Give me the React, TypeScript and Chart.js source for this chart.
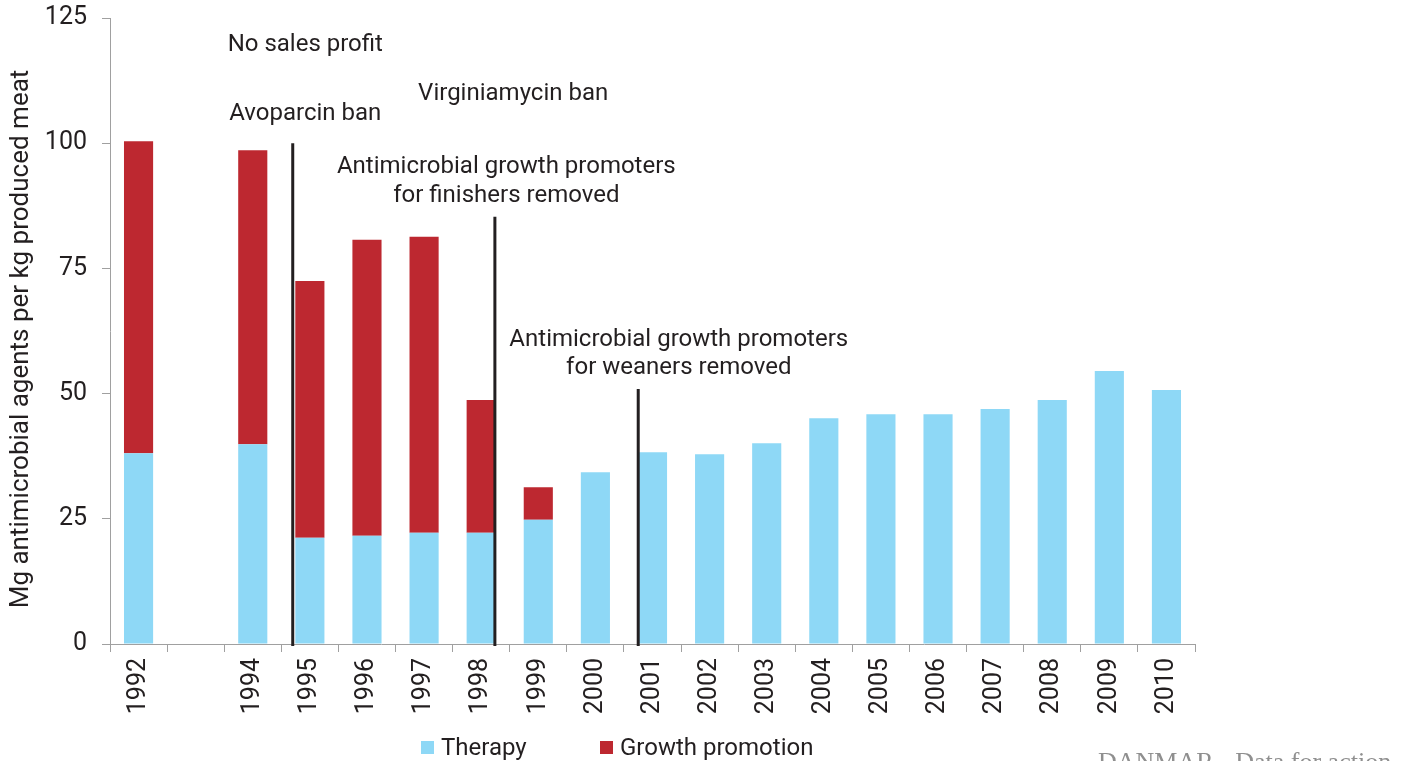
import { useEffect, useRef } from 'react';
import { Chart, registerables } from 'chart.js';

Chart.register(...registerables);

const years = ['1992', '', '1994', '1995', '1996', '1997', '1998', '1999', '2000', '2001', '2002', '2003', '2004', '2005', '2006', '2007', '2008', '2009', '2010'];
const therapy = [38.1, null, 39.9, 21.2, 21.6, 22.2, 22.2, 24.8, 34.3, 38.3, 37.9, 40.1, 45.1, 45.9, 45.9, 46.9, 48.7, 54.5, 50.7];
const growthPromotion = [62.3, null, 58.7, 51.3, 59.1, 59.1, 26.5, 6.5, 0, 0, 0, 0, 0, 0, 0, 0, 0, 0, 0];

const yTicks = [0, 25, 50, 75, 100, 125];
const yTitle = 'Mg antimicrobial agents per kg produced meat';

// event markers: x in category index units, top in y units
const eventLineX = [2.7, 6.24, 8.75];
const eventLineTop = [100, 85.3, 50.9];

// annotation texts: x in category index units, y in value units
const noteText = [
  'No sales profit',
  'Avoparcin ban',
  'Virginiamycin ban',
  'Antimicrobial growth promoters',
  'for finishers removed',
  'Antimicrobial growth promoters',
  'for weaners removed',
];
const noteX = [2.92, 2.92, 6.56, 6.44, 6.44, 9.46, 9.46];
const noteY = [119.7, 105.8, 109.9, 95.2, 89.5, 60.7, 55.1];

const TEXT = '#231f20';
const AXIS = '#a0a0a0';
const BLUE = '#8ed8f6';
const RED = '#bd2830';
const FONT = 'Roboto';

const overlay = {
  id: 'overlay',
  afterDatasetsDraw(chart: any) {
    const { ctx, scales, chartArea } = chart;
    const x = scales.x;
    const y = scales.y;
    ctx.save();
    // event lines
    ctx.strokeStyle = TEXT;
    ctx.lineWidth = 3;
    eventLineX.forEach((v, i) => {
      const px = x.getPixelForValue(v);
      ctx.beginPath();
      ctx.moveTo(px, y.getPixelForValue(eventLineTop[i]));
      ctx.lineTo(px, y.getPixelForValue(0) + 2);
      ctx.stroke();
    });
    // notes
    ctx.fillStyle = TEXT;
    ctx.font = `24px ${FONT}`;
    ctx.textAlign = 'center';
    ctx.textBaseline = 'middle';
    noteText.forEach((t, i) => {
      ctx.fillText(t, x.getPixelForValue(noteX[i]), y.getPixelForValue(noteY[i]));
    });
    // y title
    ctx.save();
    ctx.font = `26px ${FONT}`;
    ctx.translate(21.6, (chartArea.top + chartArea.bottom) / 2 + 8);
    ctx.rotate(-Math.PI / 2);
    ctx.fillText(yTitle, 0, 0);
    ctx.restore();
    // legend
    const items = chart.data.datasets;
    const legendX = [421, 600];
    ctx.textAlign = 'left';
    ctx.textBaseline = 'alphabetic';
    items.forEach((ds: any, i: number) => {
      ctx.fillStyle = ds.backgroundColor;
      ctx.fillRect(legendX[i], 741, 13, 13);
      ctx.fillStyle = TEXT;
      ctx.fillText(ds.label, legendX[i] + 20, 755);
    });
    // source
    ctx.fillStyle = '#8f8f8f';
    ctx.font = '26px "Liberation Serif"';
    ctx.fillText('DANMAR - Data for action', 1098, 770);
    ctx.restore();
  },
};

export default function App() {
  const ref = useRef<HTMLCanvasElement>(null);
  useEffect(() => {
    if (!ref.current) return;
    const chart = new Chart(ref.current, {
      type: 'bar',
      data: {
        labels: years,
        datasets: [
          { label: 'Therapy', data: therapy, backgroundColor: BLUE, barPercentage: 0.51, categoryPercentage: 1 },
          { label: 'Growth promotion', data: growthPromotion, backgroundColor: RED, barPercentage: 0.51, categoryPercentage: 1 },
        ],
      },
      options: {
        responsive: false,
        animation: false,
        layout: { padding: { top: 18, right: 213, left: 0, bottom: 0 } },
        plugins: { legend: { display: false }, tooltip: { enabled: false } },
        scales: {
          x: {
            stacked: true,
            grid: { offset: true, drawOnChartArea: false, drawTicks: true, tickLength: 8, color: AXIS },
            border: { color: AXIS },
            ticks: { minRotation: 90, maxRotation: 90, autoSkip: false, font: { family: FONT, size: 25 }, color: TEXT, padding: 6 },
            afterFit: (s: any) => { s.height = 117; s.paddingLeft = 0; s.paddingRight = 0; },
          },
          y: {
            stacked: true,
            min: 0,
            max: 125,
            afterBuildTicks: (s: any) => { s.ticks = yTicks.map((v) => ({ value: v })); },
            ticks: { font: { family: FONT, size: 25 }, color: TEXT, padding: 15 },
            grid: { drawOnChartArea: false, drawTicks: true, tickLength: 8, color: AXIS },
            border: { color: AXIS },
            afterFit: (s: any) => { s.width = 110; s.paddingTop = 0; s.paddingBottom = 0; },
          },
        },
      },
      plugins: [overlay],
    });
    return () => chart.destroy();
  }, []);
  return (
    <div style={{ position: 'fixed', left: 0, top: 0, width: 1408, height: 761, background: '#fff' }}>
      <canvas ref={ref} width={1408} height={761} style={{ display: 'block' }} />
    </div>
  );
}
